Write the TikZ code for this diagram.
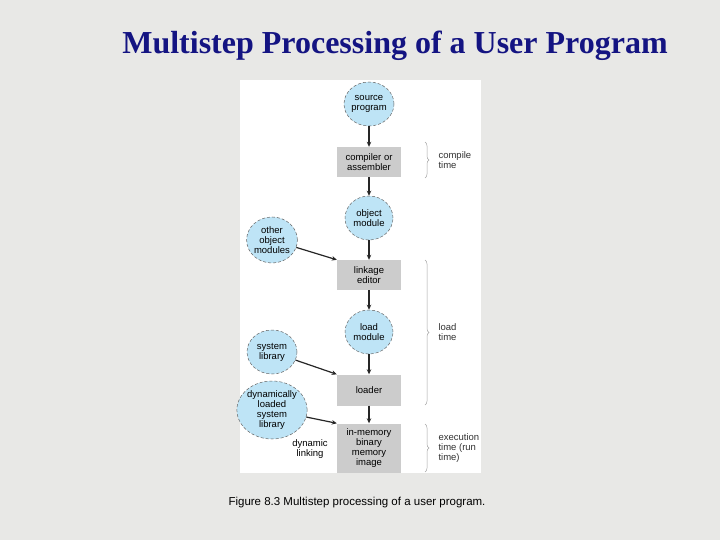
\documentclass[tikz,border=0pt]{standalone}
\usepackage{fontspec}
\setmainfont{Liberation Serif}
\setsansfont{Liberation Sans}
\usetikzlibrary{shapes.geometric,arrows.meta,decorations.pathreplacing}
\definecolor{bg}{RGB}{232,232,230}
\definecolor{ell}{RGB}{190,228,246}
\definecolor{box}{RGB}{204,204,204}
\definecolor{ttl}{RGB}{20,20,130}
\begin{document}
\begin{tikzpicture}[x=1pt,y=-1pt,
  el/.style={ellipse,draw=gray!80!black,densely dashed,line width=0.5pt,fill=ell,inner sep=0pt,font=\sffamily\fontsize{9.5}{10}\selectfont,align=center},
  bx/.style={rectangle,fill=box,minimum width=64pt,inner sep=0pt,font=\sffamily\fontsize{9.5}{10}\selectfont,align=center},
  ar/.style={-{Stealth[length=5pt,width=4.5pt]},line width=1.2pt,black!85},
  br/.style={decorate,decoration={brace,amplitude=4pt},draw=gray!70,line width=0.5pt},
  lb/.style={font=\sffamily\fontsize{9.5}{10}\selectfont,align=left,anchor=west,text=black!80}]
\useasboundingbox (0,0) rectangle (720,540);
\fill[bg] (0,0) rectangle (720,540);
\fill[white] (240,80) rectangle (481,473);
\node[font=\bfseries\fontsize{32}{34}\selectfont,text=ttl] (title) at (395,46) {Multistep Processing of a User Program};
\node[font=\sffamily\fontsize{11.5}{13}\selectfont] (cap) at (357,503) {Figure 8.3 Multistep processing of a user program.};

\node[el,minimum width=48pt,minimum height=44pt] (src) at (369,104) {source\\program};
\node[bx,minimum height=30pt] (comp) at (369,162) {compiler or\\assembler};
\node[el,minimum width=48pt,minimum height=44pt] (obj) at (369,218) {object\\module};
\node[el,minimum width=50pt,minimum height=46pt] (oth) at (272,240) {other\\object\\modules};
\node[bx,minimum height=30pt] (link) at (369,275) {linkage\\editor};
\node[el,minimum width=48pt,minimum height=44pt] (load) at (369,332) {load\\module};
\node[el,minimum width=50pt,minimum height=44pt] (sys) at (272,352) {system\\library};
\node[bx,minimum height=31pt] (ldr) at (369,390) {loader};
\node[el,minimum width=60pt,minimum height=58pt] (dyn) at (272,410) {dynamically\\loaded\\system\\library};
\node[bx,minimum height=49pt] (mem) at (369,448) {in-memory\\binary\\memory\\image};
\node[font=\sffamily\fontsize{9.5}{10}\selectfont,align=center] (dl) at (310,449) {dynamic\\linking};

\draw[ar] (src) -- (comp);
\draw[ar] (comp) -- (obj);
\draw[ar] (obj) -- (link);
\draw[ar] (oth) -- (link.north west);
\draw[ar] (link) -- (load);
\draw[ar] (load) -- (ldr);
\draw[ar] (sys) -- (ldr.north west);
\draw[ar] (ldr) -- (mem);
\draw[ar] (dyn) -- (mem.north west);

\coordinate (c1) at (425,142); \coordinate (c2) at (425,178);
\coordinate (l1) at (425,260); \coordinate (l2) at (425,405);
\coordinate (e1) at (425,424); \coordinate (e2) at (425,472);
\draw[br] (c1) -- (c2);
\draw[br] (l1) -- (l2);
\draw[br] (e1) -- (e2);
\node[lb] (ct) at (435,160) {compile\\time};
\node[lb] (lt) at (435,332) {load\\time};
\node[lb] (et) at (435,448) {execution\\time (run\\time)};
\end{tikzpicture}
\end{document}
